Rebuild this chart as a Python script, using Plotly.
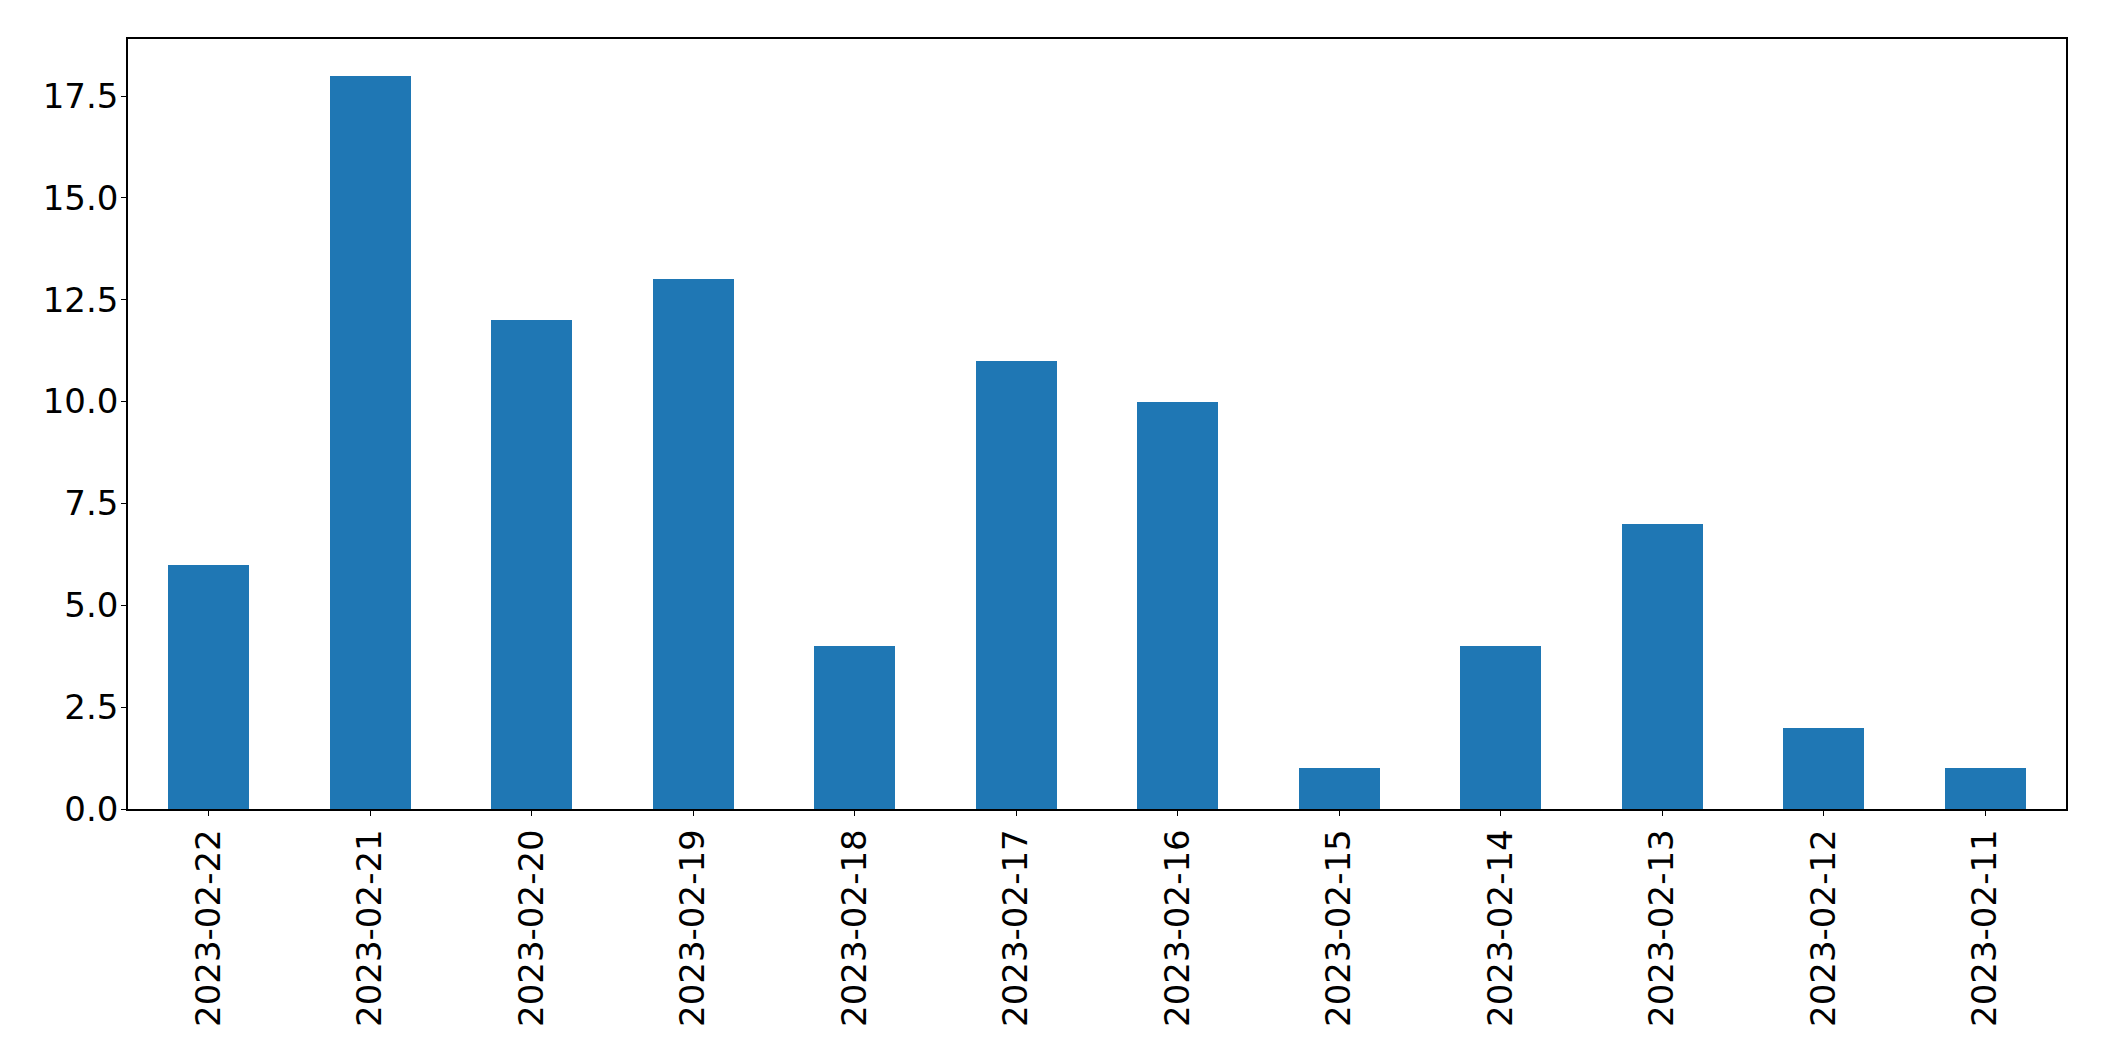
import plotly.graph_objects as go

dates = ["2023-02-22", "2023-02-21", "2023-02-20", "2023-02-19", "2023-02-18", "2023-02-17",
         "2023-02-16", "2023-02-15", "2023-02-14", "2023-02-13", "2023-02-12", "2023-02-11"]
counts = [6, 18, 12, 13, 4, 11, 10, 1, 4, 7, 2, 1]
y_ticks = [0.0, 2.5, 5.0, 7.5, 10.0, 12.5, 15.0, 17.5]
y_tick_labels = ["0.0", "2.5", "5.0", "7.5", "10.0", "12.5", "15.0", "17.5"]

fig = go.Figure(go.Bar(x=dates, y=counts, width=0.5, marker_color="#1f77b4",
                       marker_line_width=0))

# page body has an 8px default margin, so the figure is offset by 8px
fig.update_layout(
    width=2088, height=1045,
    margin=dict(l=119.5, r=30.3, t=31.3, b=244),
    paper_bgcolor="white", plot_bgcolor="white",
    font=dict(family="DejaVu Sans", size=34, color="black"),
    showlegend=False,
    bargap=0,
)
fig.update_xaxes(
    type="category", range=[-0.5, 11.5], tickangle=-90,
    showline=True, linecolor="black", linewidth=1.5, mirror=True,
    ticks="outside", ticklen=5, tickwidth=1.2, tickcolor="black",
    showgrid=False, zeroline=False, ticklabelstandoff=0,
)
fig.update_yaxes(
    range=[0, 18.9], tickvals=y_ticks, ticktext=y_tick_labels,
    showline=True, linecolor="black", linewidth=1.5, mirror=True,
    ticks="outside", ticklen=5, tickwidth=1.2, tickcolor="black",
    showgrid=False, zeroline=False, ticklabelstandoff=-4,
)

fig.write_html("out.html")
